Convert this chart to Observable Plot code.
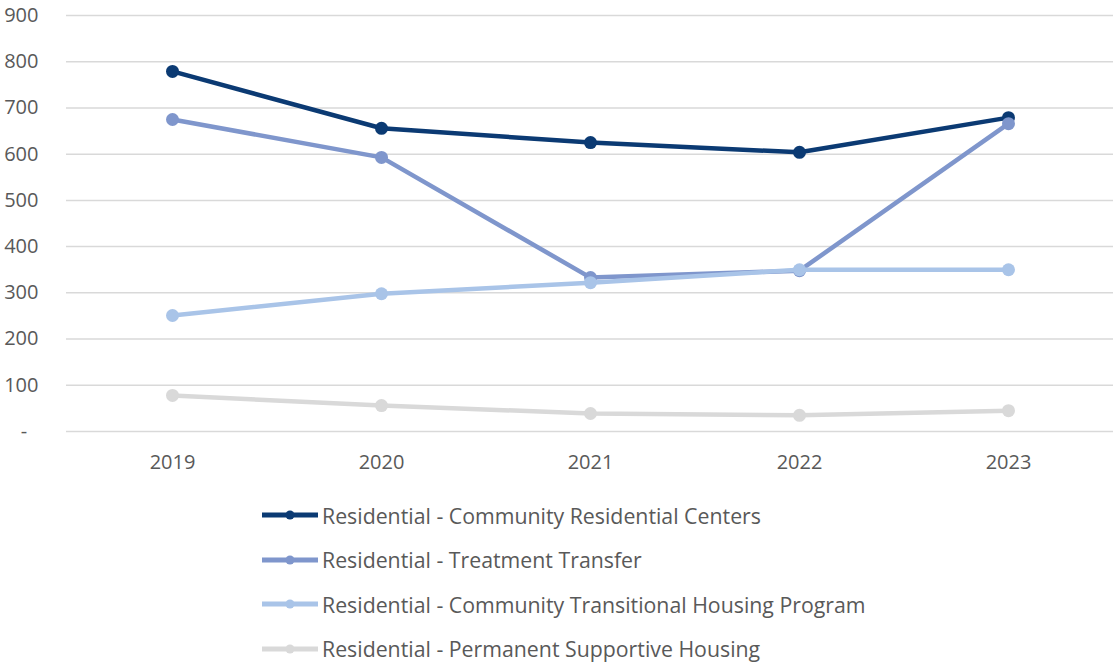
<!DOCTYPE html>
<html>
<head>
<meta charset="utf-8">
<script src="https://cdn.jsdelivr.net/npm/d3@7"></script>
<script src="https://cdn.jsdelivr.net/npm/@observablehq/plot@0.6"></script>
<style>
  html, body { margin: 0; padding: 0; background: #fff; }
  body { width: 1113px; height: 665px; overflow: hidden; font-family: "Open Sans", sans-serif; }
  #legend { margin-left: 262px; padding-top: 18px; }
  .item { display: flex; align-items: center; height: 44.5px; font-size: 21.3px; color: #595959; }
  .item svg { margin-right: 4px; }
</style>
</head>
<body>
<div id="chart"></div>
<div id="legend"></div>
<script>
const years = ["2019", "2020", "2021", "2022", "2023"];
const seriesNames = [
  "Residential - Community Residential Centers",
  "Residential - Treatment Transfer",
  "Residential - Community Transitional Housing Program",
  "Residential - Permanent Supportive Housing"
];
const crcValues  = [779, 656, 625, 604, 679];
const ttValues   = [675, 593, 333, 348, 666];
const cthpValues = [251, 298, 322, 350, 350];
const pshValues  = [78, 56, 39, 35, 45];
const seriesColors = ["#0b3a73", "#7f96cc", "#a9c4e8", "#d9d9d9"];
const yTicks = [0, 100, 200, 300, 400, 500, 600, 700, 800, 900];

const allValues = [crcValues, ttValues, cthpValues, pshValues];
const data = [];
seriesNames.forEach((s, i) => years.forEach((y, j) => data.push({series: s, year: y, value: allValues[i][j]})));

const marks = [
  Plot.ruleY(yTicks, {stroke: "#d9d9d9", strokeWidth: 1.5})
];
seriesNames.forEach((s, i) => {
  const d = data.filter(r => r.series === s);
  marks.push(Plot.line(d, {x: "year", y: "value", stroke: seriesColors[i], strokeWidth: 4.5, curve: "linear"}));
  marks.push(Plot.dot(d, {x: "year", y: "value", fill: seriesColors[i], r: 6.5}));
});

const chart = Plot.plot({
  width: 1113,
  height: 475,
  marginLeft: 66,
  marginRight: 0,
  marginTop: 15,
  marginBottom: 44,
  style: {fontFamily: "Open Sans", fontSize: "20px", color: "#595959", background: "#fff"},
  x: {type: "point", domain: years, padding: 0.5, label: null, tickSize: 0, tickPadding: 23},
  y: {domain: [0, 900], ticks: yTicks, label: null, tickSize: 0, tickPadding: 28,
      tickFormat: d => d === 0 ? "-\u2007" : d3.format("d")(d)},
  marks
});
document.getElementById("chart").appendChild(chart);

const legend = d3.select("#legend");
seriesNames.forEach((s, i) => {
  const item = legend.append("div").attr("class", "item");
  const sw = item.append("svg").attr("width", 56).attr("height", 12);
  sw.append("line").attr("x1", 0).attr("x2", 56).attr("y1", 6).attr("y2", 6)
    .attr("stroke", seriesColors[i]).attr("stroke-width", 5).attr("stroke-linecap", "round");
  sw.append("circle").attr("cx", 28).attr("cy", 6).attr("r", 4.5).attr("fill", seriesColors[i]);
  item.append("span").text(s);
});
</script>
</body>
</html>
